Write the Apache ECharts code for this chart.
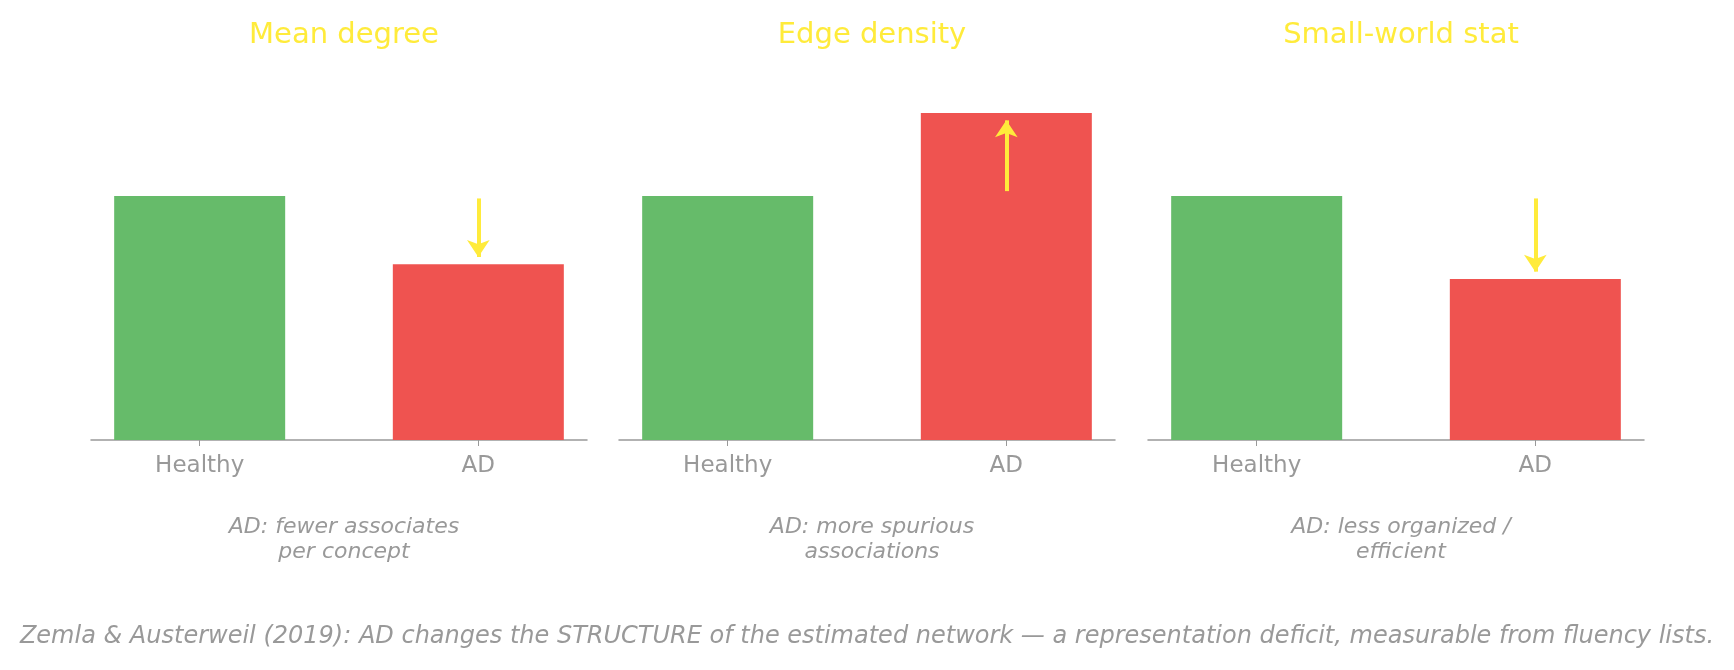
<!DOCTYPE html>
<html>
<head>
<meta charset="utf-8">
<script src="https://cdn.jsdelivr.net/npm/echarts@6/dist/echarts.min.js"></script>
<style>html,body{margin:0;padding:0;background:#fff}#main{width:1734px;height:670px}</style>
</head>
<body>
<div id="main"></div>
<script>
var chart = echarts.init(document.getElementById('main'));
var panels = [
    {title: 'Mean degree', healthy: 1.0, ad: 0.72, arrow: [0.99, 0.75], note: 'AD: fewer associates\nper concept'},
    {title: 'Edge density', healthy: 1.0, ad: 1.34, arrow: [1.02, 1.31], note: 'AD: more spurious\nassociations'},
    {title: 'Small-world stat', healthy: 1.0, ad: 0.66, arrow: [0.99, 0.69], note: 'AD: less organized /\nefficient'}
];
var groups = ['Healthy', 'AD'];
var lefts = [91, 619, 1148];
var font = 'DejaVu Sans';
var grid = [], xAxis = [], yAxis = [], series = [], titles = [];
panels.forEach(function(p, i) {
    grid.push({left: lefts[i], width: 496, top: 74, height: 366});
    xAxis.push({
        type: 'value', gridIndex: i, min: -0.39, max: 1.39,
        splitLine: {show: false},
        axisLine: {show: true, lineStyle: {color: '#999', width: 1.5}},
        axisTick: {show: true, customValues: [0, 1], length: 6, lineStyle: {color: '#999'}},
        axisLabel: {customValues: [0, 1], color: '#999', fontSize: 23, fontFamily: font, margin: 15,
            formatter: function(v) { return groups[Math.round(v)]; }}
    });
    yAxis.push({type: 'value', gridIndex: i, min: 0, max: 1.5, show: false, splitLine: {show: false}});
    series.push({
        type: 'bar', xAxisIndex: i, yAxisIndex: i, barWidth: 171,
        data: [{value: [0, p.healthy], itemStyle: {color: '#66bb6a'}}, {value: [1, p.ad], itemStyle: {color: '#ef5350'}}],
        markLine: {
            silent: true, animation: false,
            symbol: ['none', 'arrow'], symbolSize: 17,
            lineStyle: {color: '#ffeb3b', width: 4, type: 'solid'},
            label: {show: false},
            data: [[{coord: [1, p.arrow[0]]}, {coord: [1, p.arrow[1]]}]]
        }
    });
    var cx = lefts[i] + 248;
    titles.push({text: p.title, left: cx, top: 16, textAlign: 'center',
        textStyle: {color: '#ffeb3b', fontSize: 29, fontWeight: 'normal', fontFamily: font}});
    titles.push({text: p.note, left: cx, top: 510, textAlign: 'center',
        textStyle: {color: '#999', fontSize: 22, fontStyle: 'italic', fontWeight: 'normal', fontFamily: font, lineHeight: 25}});
});
titles.push({text: 'Zemla & Austerweil (2019): AD changes the STRUCTURE of the estimated network \u2014 a representation deficit, measurable from fluency lists.',
    left: 'center', top: 620,
    textStyle: {color: '#999', fontSize: 24, fontStyle: 'italic', fontWeight: 'normal', fontFamily: font}});
chart.setOption({
    animation: false,
    title: titles,
    grid: grid,
    xAxis: xAxis,
    yAxis: yAxis,
    series: series
});
</script>
</body>
</html>
